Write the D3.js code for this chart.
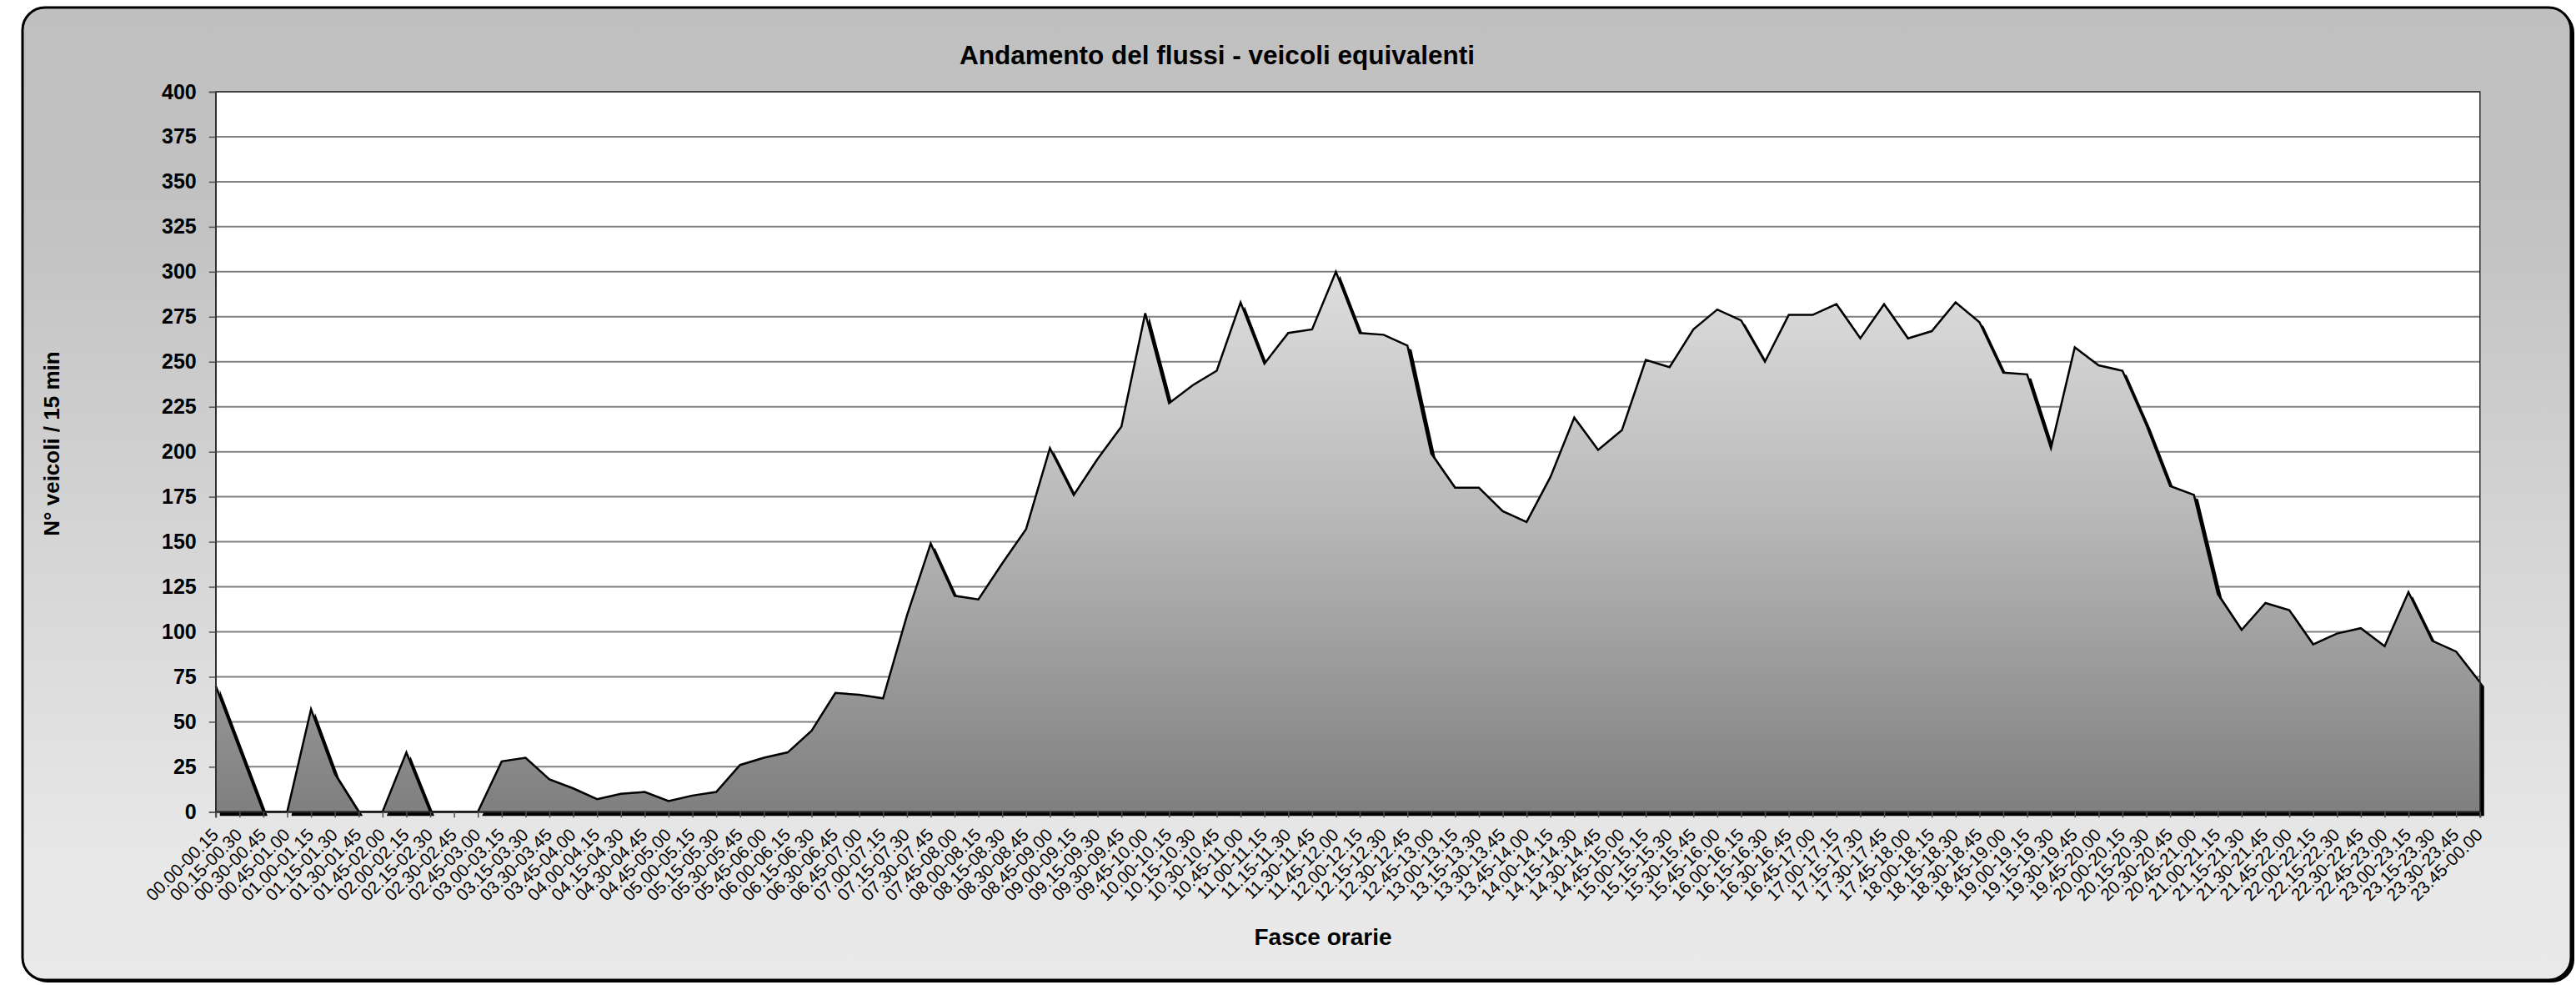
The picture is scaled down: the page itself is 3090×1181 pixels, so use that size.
<!DOCTYPE html>
<html><head><meta charset="utf-8">
<script src="https://cdn.jsdelivr.net/npm/d3@7"></script>
<style>
body{margin:0;background:#fff}
svg{display:block}
text{font-family:"Liberation Sans",Arial,Helvetica,sans-serif;fill:#000}
</style>
</head><body>
<svg id="chart" width="3090" height="1181"></svg>
<script>
const chartTitle = "Andamento del flussi - veicoli equivalenti";
const yAxisTitle = "N° veicoli / 15 min";
const xAxisTitle = "Fasce orarie";

const categories = [
"00.00-00.15","00.15-00.30","00.30-00.45","00.45-01.00","01.00-01.15","01.15-01.30","01.30-01.45","01.45-02.00",
"02.00-02.15","02.15-02.30","02.30-02.45","02.45-03.00","03.00-03.15","03.15-03.30","03.30-03.45","03.45-04.00",
"04.00-04.15","04.15-04.30","04.30-04.45","04.45-05.00","05.00-05.15","05.15-05.30","05.30-05.45","05.45-06.00",
"06.00-06.15","06.15-06.30","06.30-06.45","06.45-07.00","07.00-07.15","07.15-07.30","07.30-07.45","07.45-08.00",
"08.00-08.15","08.15-08.30","08.30-08.45","08.45-09.00","09.00-09.15","09.15-09.30","09.30-09.45","09.45-10.00",
"10.00-10.15","10.15-10.30","10.30-10.45","10.45-11.00","11.00-11.15","11.15-11.30","11.30-11.45","11.45-12.00",
"12.00-12.15","12.15-12.30","12.30-12.45","12.45-13.00","13.00-13.15","13.15-13.30","13.30-13.45","13.45-14.00",
"14.00-14.15","14.15-14.30","14.30-14.45","14.45-15.00","15.00-15.15","15.15-15.30","15.30-15.45","15.45-16.00",
"16.00-16.15","16.15-16.30","16.30-16.45","16.45-17.00","17.00-17.15","17.15-17.30","17.30-17.45","17.45-18.00",
"18.00-18.15","18.15-18.30","18.30-18.45","18.45-19.00","19.00-19.15","19.15-19.30","19.30-19.45","19.45-20.00",
"20.00-20.15","20.15-20.30","20.30-20.45","20.45-21.00","21.00-21.15","21.15-21.30","21.30-21.45","21.45-22.00",
"22.00-22.15","22.15-22.30","22.30-22.45","22.45-23.00","23.00-23.15","23.15-23.30","23.30-23.45","23.45-00.00"
];

const values = [
70,35,0,0,57,21,0,0,
33,0,0,0,28,30,18,13,
7,10,11,6,9,11,26,30,
33,45,66,65,63,109,149,120,
118,138,157,202,176,196,214,277,
227,237,245,283,249,266,268,300,
266,265,259,199,180,180,167,161,
186,219,201,212,251,247,268,279,
273,250,276,276,282,263,282,263,
267,283,272,244,243,202,258,248,
245,215,181,176,121,101,116,112,
93,99,102,92,122,95,89,72
];

const yTicks = [0,25,50,75,100,125,150,175,200,225,250,275,300,325,350,375,400];

const data = categories.map((c,i)=>({cat:c, v:values[i]}));

const svg = d3.select("#chart");
const plot = {left:258.75, right:2974.8, top:110, bottom:973.3};

const defs = svg.append("defs");
const bg = defs.append("linearGradient").attr("id","bgGrad").attr("x1",0).attr("y1",0).attr("x2",0).attr("y2",1);
bg.append("stop").attr("offset","0%").attr("stop-color","#c0c0c0");
bg.append("stop").attr("offset","22%").attr("stop-color","#c2c2c2");
bg.append("stop").attr("offset","88%").attr("stop-color","#e8e8e8");
bg.append("stop").attr("offset","100%").attr("stop-color","#e9e9e9");

const x = d3.scalePoint().domain(categories).range([plot.left, plot.right]);
const y = d3.scaleLinear().domain([0,400]).range([plot.bottom, plot.top]);

const ag = defs.append("linearGradient").attr("id","areaGrad")
  .attr("gradientUnits","userSpaceOnUse")
  .attr("x1",0).attr("x2",0).attr("y1",y(d3.max(values))).attr("y2",y(0));
ag.append("stop").attr("offset","0%").attr("stop-color","#dedede");
ag.append("stop").attr("offset","45%").attr("stop-color","#b8b8b8");
ag.append("stop").attr("offset","100%").attr("stop-color","#7f7f7f");

// outer frame
svg.append("rect").attr("x",30).attr("y",12).attr("width",3058).attr("height",1166)
  .attr("rx",27).attr("fill","#000");
svg.append("rect").attr("x",27).attr("y",9).attr("width",3057).attr("height",1166)
  .attr("rx",27).attr("fill","url(#bgGrad)").attr("stroke","#000").attr("stroke-width",3);

// plot background
svg.append("rect").attr("x",plot.left).attr("y",plot.top)
  .attr("width",plot.right-plot.left).attr("height",plot.bottom-plot.top).attr("fill","#fff");

// gridlines
svg.append("g").selectAll("line").data(yTicks.filter(t=>t>0)).join("line")
  .attr("x1",plot.left).attr("x2",plot.right)
  .attr("y1",d=>y(d)).attr("y2",d=>y(d))
  .attr("stroke","#808080").attr("stroke-width",2);

const area = d3.area().x(d=>x(d.cat)).y0(y(0)).y1(d=>y(d.v));
const line = d3.line().x(d=>x(d.cat)).y(d=>y(d.v));

// shadow
svg.append("path").datum(data).attr("d",area).attr("fill","#000")
  .attr("transform","translate(5,5)");
// area
svg.append("path").datum(data).attr("d",area).attr("fill","url(#areaGrad)");
svg.append("path").datum(data).attr("d",line).attr("fill","none")
  .attr("stroke","#000").attr("stroke-width",2.5).attr("stroke-linejoin","miter");

// plot border
svg.append("rect").attr("x",plot.left).attr("y",plot.top)
  .attr("width",plot.right-plot.left).attr("height",plot.bottom-plot.top)
  .attr("fill","none").attr("stroke","#303030").attr("stroke-width",1.5);

// y axis
const yAxis = d3.axisLeft(y).tickValues(yTicks).tickSize(8).tickPadding(15);
const gy = svg.append("g").attr("transform",`translate(${plot.left},0)`).call(yAxis);
gy.select(".domain").attr("stroke","#303030").attr("stroke-width",1.5);
gy.selectAll(".tick line").attr("stroke","#505050").attr("stroke-width",1.5);
gy.selectAll(".tick text").attr("font-family","'Liberation Sans',Arial,sans-serif")
  .attr("font-size",25).attr("font-weight","bold").attr("fill","#000");

// x axis
const xAxis = d3.axisBottom(x).tickSize(7).tickPadding(0);
const gx = svg.append("g").attr("transform",`translate(0,${plot.bottom})`).call(xAxis);
gx.select(".domain").attr("stroke","#202020").attr("stroke-width",2);
gx.selectAll(".tick line").attr("stroke","#505050").attr("stroke-width",1.5);
gx.selectAll(".tick text")
  .attr("font-family","'Liberation Sans',Arial,sans-serif")
  .attr("font-size",21).attr("fill","#000")
  .attr("text-anchor","end").attr("dy",null).attr("y",null)
  .attr("transform","translate(4,29) rotate(-45)");

// titles
svg.append("text").attr("x",1460).attr("y",77).attr("text-anchor","middle")
  .attr("font-size",31.5).attr("font-weight","bold").text(chartTitle);
svg.append("text").attr("transform","translate(71,532) rotate(-90)").attr("text-anchor","middle")
  .attr("font-size",26).attr("font-weight","bold").text(yAxisTitle);
svg.append("text").attr("x",1587).attr("y",1133).attr("text-anchor","middle")
  .attr("font-size",28).attr("font-weight","bold").text(xAxisTitle);
</script>
</body></html>
